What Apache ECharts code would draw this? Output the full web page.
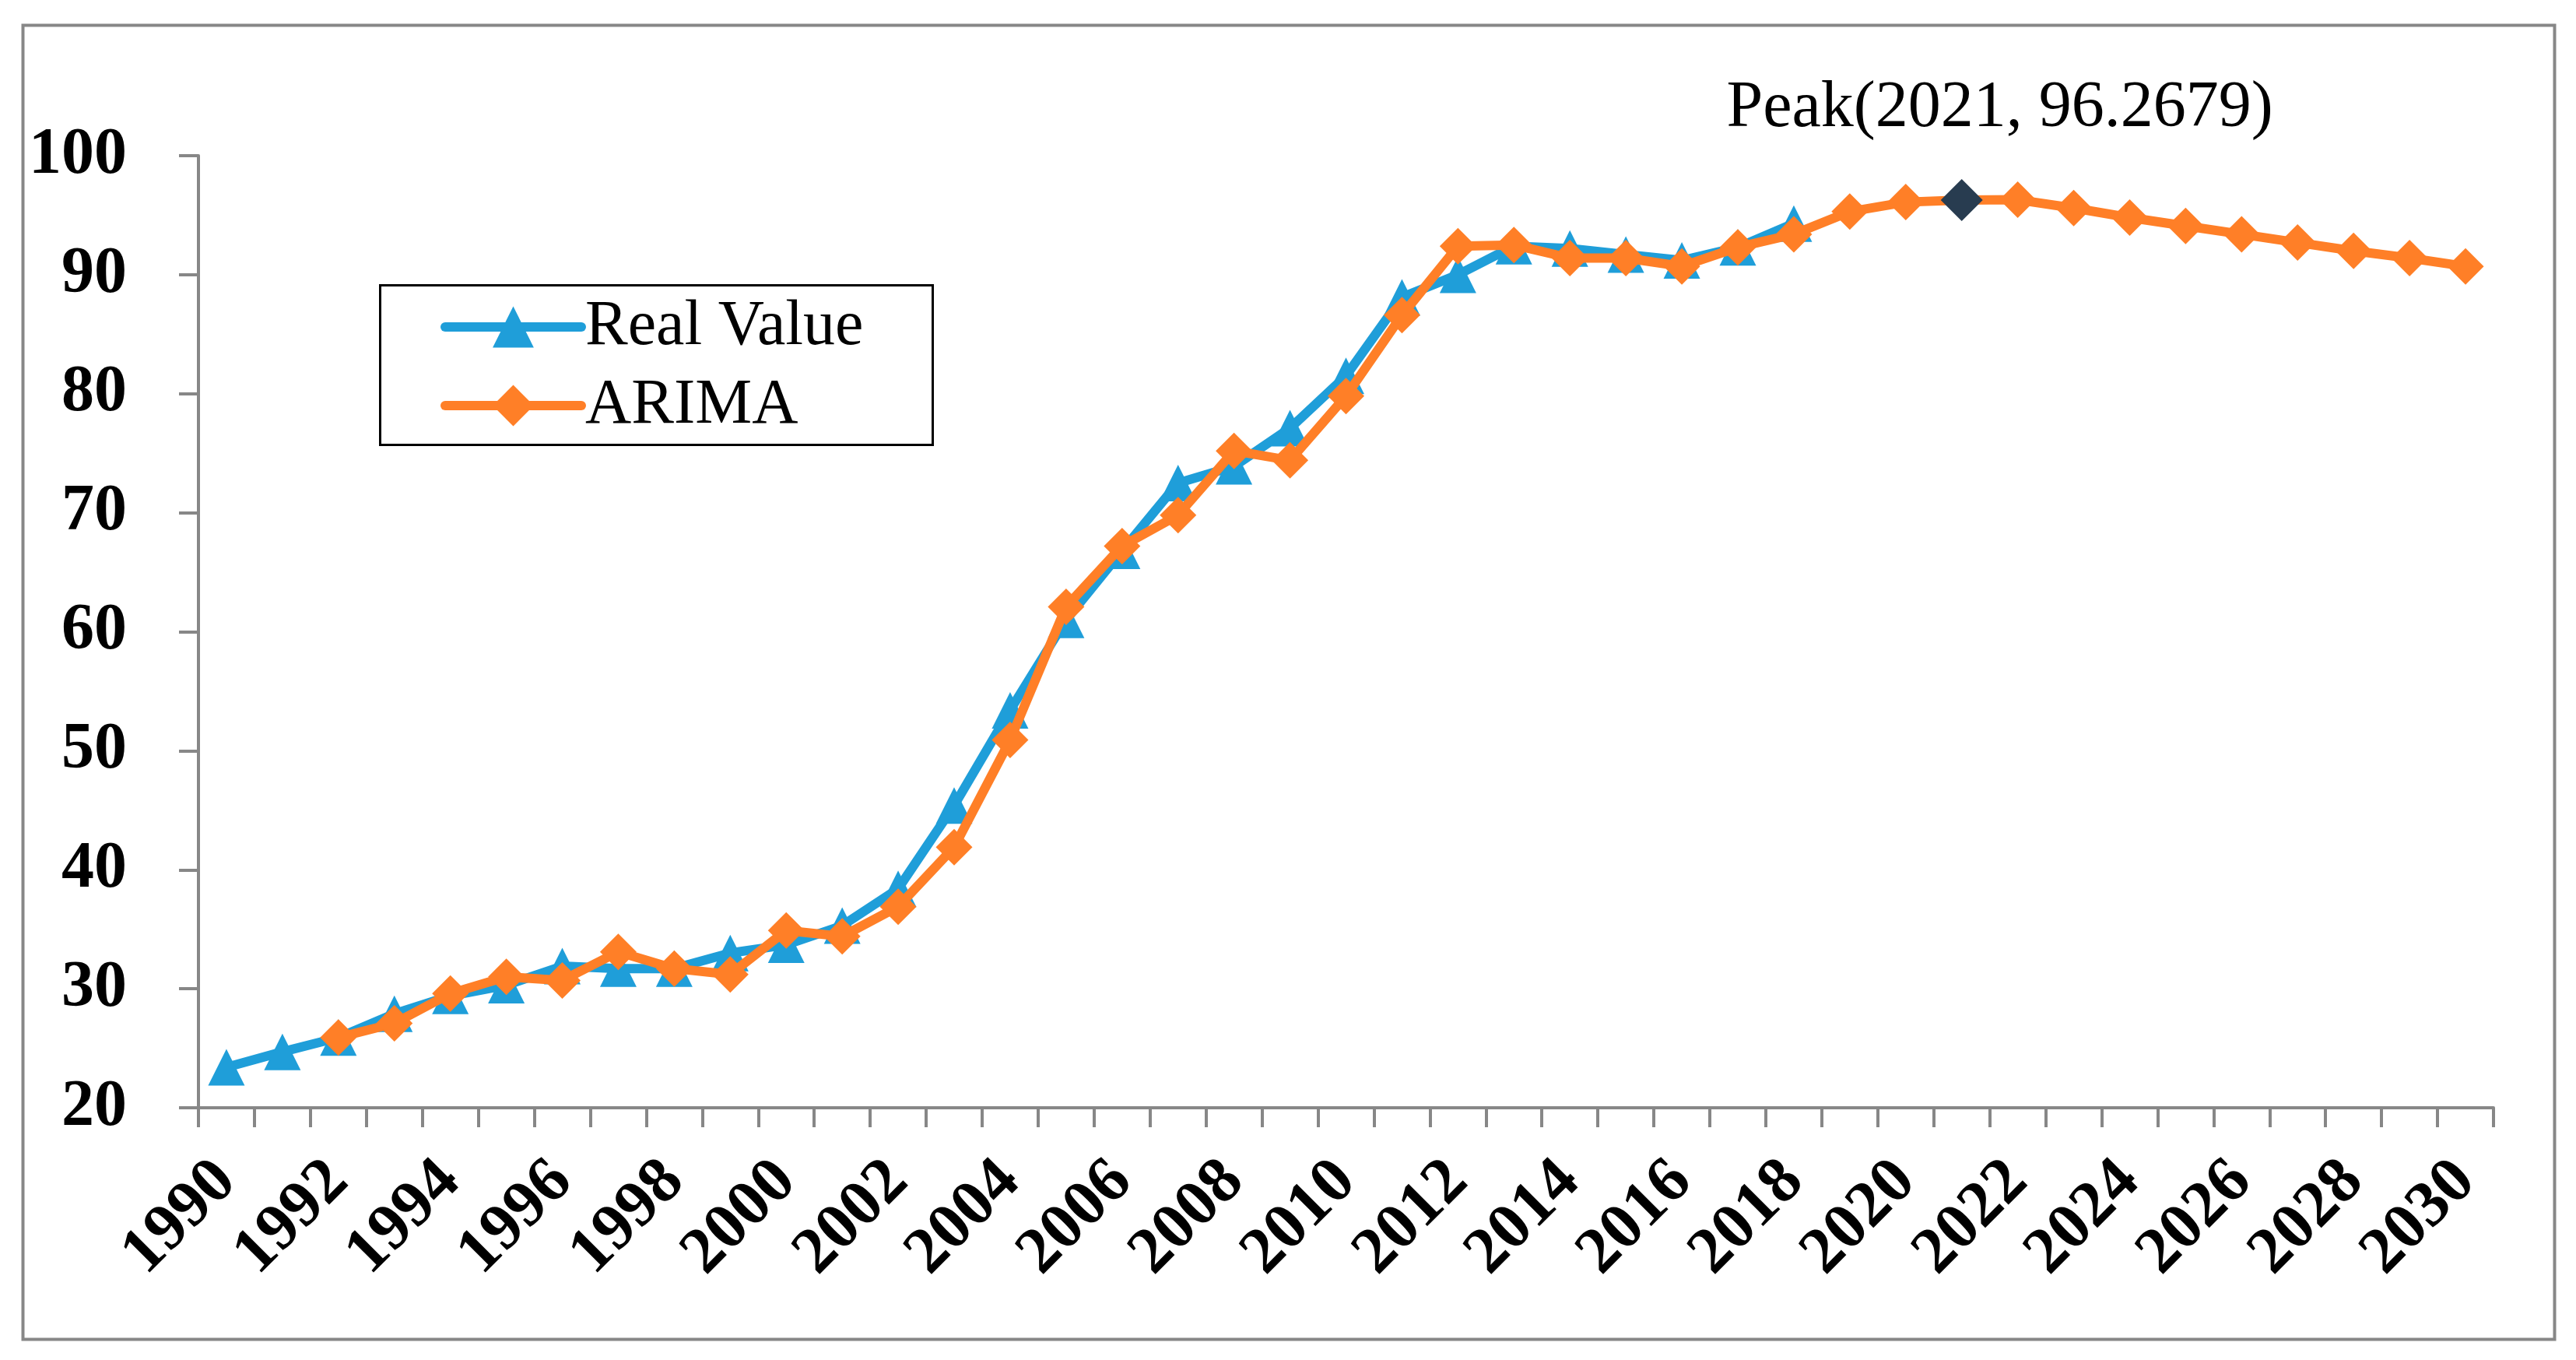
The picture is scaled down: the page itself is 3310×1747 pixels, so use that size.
<!DOCTYPE html>
<html>
<head>
<meta charset="utf-8">
<script src="https://cdn.jsdelivr.net/npm/echarts@6/dist/echarts.min.js"></script>
<style>
html,body{margin:0;padding:0;background:#fff;}
#chart{width:3310px;height:1747px;}
</style>
</head>
<body>
<div id="chart"></div>
<script>
var years = ['1990','1991','1992','1993','1994','1995','1996','1997','1998','1999','2000','2001','2002','2003','2004','2005','2006','2007','2008','2009','2010','2011','2012','2013','2014','2015','2016','2017','2018','2019','2020','2021','2022','2023','2024','2025','2026','2027','2028','2029','2030'];
var realValue = [23.4, 24.7, 25.9, 27.9, 29.4, 30.3, 31.9, 31.7, 31.7, 33.0, 33.7, 35.3, 38.4, 45.4, 53.4, 61.0, 66.8, 72.5, 73.9, 77.1, 81.5, 88.1, 90.0, 92.4, 92.2, 91.7, 91.2, 92.3, 94.3];
var arimaValue = [null, null, 25.9, 27.1, 29.6, 31.0, 30.7, 33.1, 31.7, 31.2, 34.9, 34.4, 36.9, 41.9, 50.9, 62.1, 67.2, 69.8, 75.2, 74.4, 79.8, 86.6, 92.4, 92.5, 91.4, 91.4, 90.7, 92.3, 93.4, 95.3, 96.1, 96.2679, 96.3, 95.6, 94.8, 94.1, 93.4, 92.7, 92.0, 91.4, 90.7];
var yTicks = {min: 20, max: 100, interval: 10};
var peakYear = '2021';
var peakValue = 96.2679;
var peakLabel = 'Peak(2021, 96.2679)';

var serif = '"Liberation Serif", "Times New Roman", serif';
var gray = '#878787';
var blue = '#1F9ED9';
var orange = '#FF7F27';

var chart = echarts.init(document.getElementById('chart'), null, {renderer: 'canvas'});
chart.setOption({
  animation: false,
  backgroundColor: '#ffffff',
  graphic: [
    {type: 'rect', left: 27, top: 30, shape: {x: 0, y: 0, width: 3253, height: 1688}, style: {fill: 'none', stroke: gray, lineWidth: 4}, z: 0},
    {type: 'rect', left: 487, top: 365, shape: {x: 0, y: 0, width: 710, height: 205}, style: {fill: '#fff', stroke: '#000', lineWidth: 3}, z: 1}
  ],
  grid: {left: 255, right: 106, top: 200, bottom: 324, containLabel: false},
  legend: {
    orient: 'vertical',
    left: 566,
    top: 379,
    padding: 0,
    itemWidth: 175,
    itemHeight: 66,
    itemGap: 19,
    z: 5,
    lineStyle: {width: 12, cap: 'round'},
    textStyle: {fontFamily: serif, fontSize: 82, color: '#000'},
    data: ['Real Value', 'ARIMA']
  },
  xAxis: {
    type: 'category',
    data: years,
    boundaryGap: true,
    axisLine: {show: true, lineStyle: {color: gray, width: 4}},
    axisTick: {show: true, interval: 0, length: 25, lineStyle: {color: gray, width: 4}},
    axisLabel: {interval: 1, rotate: 45, margin: 82, fontFamily: serif, fontWeight: 'bold', fontSize: 84, color: '#000'},
    splitLine: {show: false}
  },
  yAxis: {
    type: 'value',
    min: yTicks.min,
    max: yTicks.max,
    interval: yTicks.interval,
    axisLine: {show: true, lineStyle: {color: gray, width: 4}},
    axisTick: {show: true, length: 25, lineStyle: {color: gray, width: 4}},
    axisLabel: {margin: 92, fontFamily: serif, fontWeight: 'bold', fontSize: 84, color: '#000'},
    splitLine: {show: false}
  },
  series: [
    {
      name: 'Real Value',
      type: 'line',
      data: realValue,
      symbol: 'triangle',
      symbolSize: 47,
      showAllSymbol: true,
      color: blue,
      lineStyle: {color: blue, width: 12, cap: 'round', join: 'round'},
      itemStyle: {color: blue},
      z: 2
    },
    {
      name: 'ARIMA',
      type: 'line',
      data: arimaValue,
      symbol: 'diamond',
      symbolSize: 47,
      showAllSymbol: true,
      color: orange,
      lineStyle: {color: orange, width: 12, cap: 'round', join: 'round'},
      itemStyle: {color: orange},
      z: 3,
      markPoint: {
        symbol: 'diamond',
        symbolSize: 54,
        itemStyle: {color: '#283C50'},
        label: {show: true, position: 'inside', offset: [49, -117], formatter: peakLabel, fontFamily: serif, fontSize: 84, color: '#000'},
        data: [{coord: [peakYear, peakValue]}]
      }
    }
  ]
});
</script>
</body>
</html>
